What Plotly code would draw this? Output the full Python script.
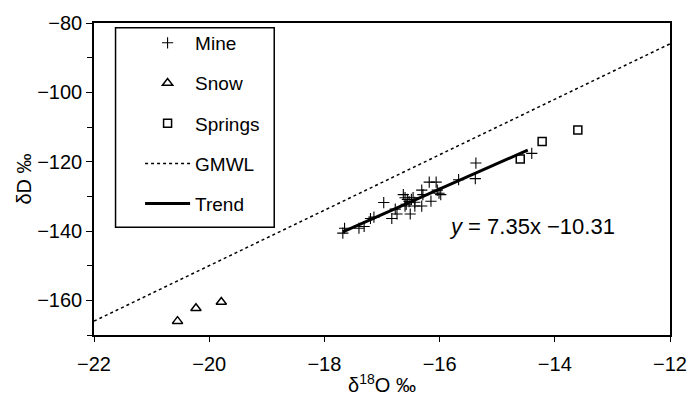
import plotly.graph_objects as go

# ---- data ----
mine_x = [-17.65, -17.68, -17.40, -17.31, -17.20, -17.14, -16.97, -16.83, -16.77, -16.74,
          -16.63, -16.60, -16.56, -16.53, -16.49, -16.46, -16.58, -16.43, -16.51, -16.60,
          -16.43, -16.31, -16.29, -16.31, -16.18, -16.06, -16.15, -16.04, -16.01, -15.98,
          -15.67, -15.37, -15.38, -14.40]
mine_y = [-139.2, -140.6, -139.2, -138.7, -136.4, -136.0, -131.8, -136.4, -133.7, -135.1,
          -129.5, -130.4, -130.9, -131.5, -130.9, -130.4, -132.3, -131.7, -135.1, -132.8,
          -132.8, -128.2, -129.5, -132.8, -125.9, -125.9, -131.4, -128.2, -129.1, -129.5,
          -125.2, -120.4, -124.9, -117.6]
snow_x = [-20.55, -20.23, -19.79]
snow_y = [-166.0, -162.3, -160.5]
springs_x = [-14.60, -14.22, -13.60]
springs_y = [-119.2, -114.2, -110.9]
gmwl_x = [-22, -12]
gmwl_y = [8 * v + 10 for v in gmwl_x]
trend_slope, trend_icpt = 7.35, -10.31
trend_x = [-17.68, -14.47]
trend_y = [trend_slope * v + trend_icpt for v in trend_x]
eq_text = "<i>y</i> = 7.35x \u221210.31"
eq_pos = (-14.40, -138.8)

x_ticks = [-22, -20, -18, -16, -14, -12]
y_ticks = [-160, -140, -120, -100, -80]

FONT = "Liberation Sans, Arial, sans-serif"

fig = go.Figure()
fig.add_trace(go.Scatter(x=mine_x, y=mine_y, mode="markers", name="Mine", legendgroup="a",
                         marker=dict(symbol="cross-thin-open", size=8, color="black",
                                     line=dict(width=1.1, color="black"))))
fig.add_trace(go.Scatter(x=snow_x, y=snow_y, mode="markers", name="Snow", legendgroup="b",
                         marker=dict(symbol="triangle-up-open", size=9, color="black",
                                     line=dict(width=1.5, color="black"))))
fig.add_trace(go.Scatter(x=springs_x, y=springs_y, mode="markers", name="Springs", legendgroup="c",
                         marker=dict(symbol="square-open", size=8, color="black",
                                     line=dict(width=1.5, color="black"))))
fig.add_trace(go.Scatter(x=gmwl_x, y=gmwl_y, mode="lines", name="GMWL", legendgroup="d",
                         line=dict(color="black", width=1.5, dash="dot")))
fig.add_trace(go.Scatter(x=trend_x, y=trend_y, mode="lines", name="Trend", legendgroup="e",
                         line=dict(color="black", width=3)))

fig.add_annotation(x=eq_pos[0], y=eq_pos[1], text=eq_text, showarrow=False,
                   font=dict(family=FONT, size=22, color="black"))

# legend frame
fig.add_shape(type="rect", xref="paper", yref="paper",
              x0=0.0374, x1=0.3129, y0=0.3456, y1=0.9847,
              line=dict(color="black", width=1.5), fillcolor="rgba(0,0,0,0)", layer="above")

fig.update_layout(
    width=699, height=405,
    margin=dict(l=94, r=17, t=15, b=63),
    plot_bgcolor="white", paper_bgcolor="white",
    font=dict(family=FONT, size=20, color="black"),
    showlegend=True,
    legend=dict(x=0.080, y=0.997, xanchor="left", yanchor="top",
                borderwidth=0, bgcolor="rgba(0,0,0,0)",
                font=dict(family=FONT, size=19), tracegroupgap=12.5,
                itemwidth=45),
)
fig.update_xaxes(range=[-22, -12], tickvals=x_ticks,
                 ticktext=["\u2212" + str(abs(v)) for v in x_ticks],
                 showgrid=False, zeroline=False,
                 showline=True, linecolor="black", linewidth=2, mirror=True,
                 ticks="outside", ticklen=5, tickwidth=1.2, tickcolor="black",
                 ticklabelstandoff=5,
                 title=dict(text="\u03b4<sup>18</sup>O \u2030", font=dict(size=20), standoff=4))
fig.update_yaxes(range=[-170, -80], tickvals=y_ticks,
                 ticktext=["\u2212" + str(abs(v)) for v in y_ticks],
                 showgrid=False, zeroline=False,
                 showline=True, linecolor="black", linewidth=1.5, mirror=True,
                 ticks="outside", ticklen=6, tickwidth=1.2, tickcolor="black",
                 minor=dict(dtick=10, tick0=-170, ticks="outside", ticklen=5, tickwidth=1.2,
                            tickcolor="black", showgrid=False),
                 title=dict(text="\u03b4D \u2030", font=dict(size=20), standoff=0))

fig.write_html("out.html")
